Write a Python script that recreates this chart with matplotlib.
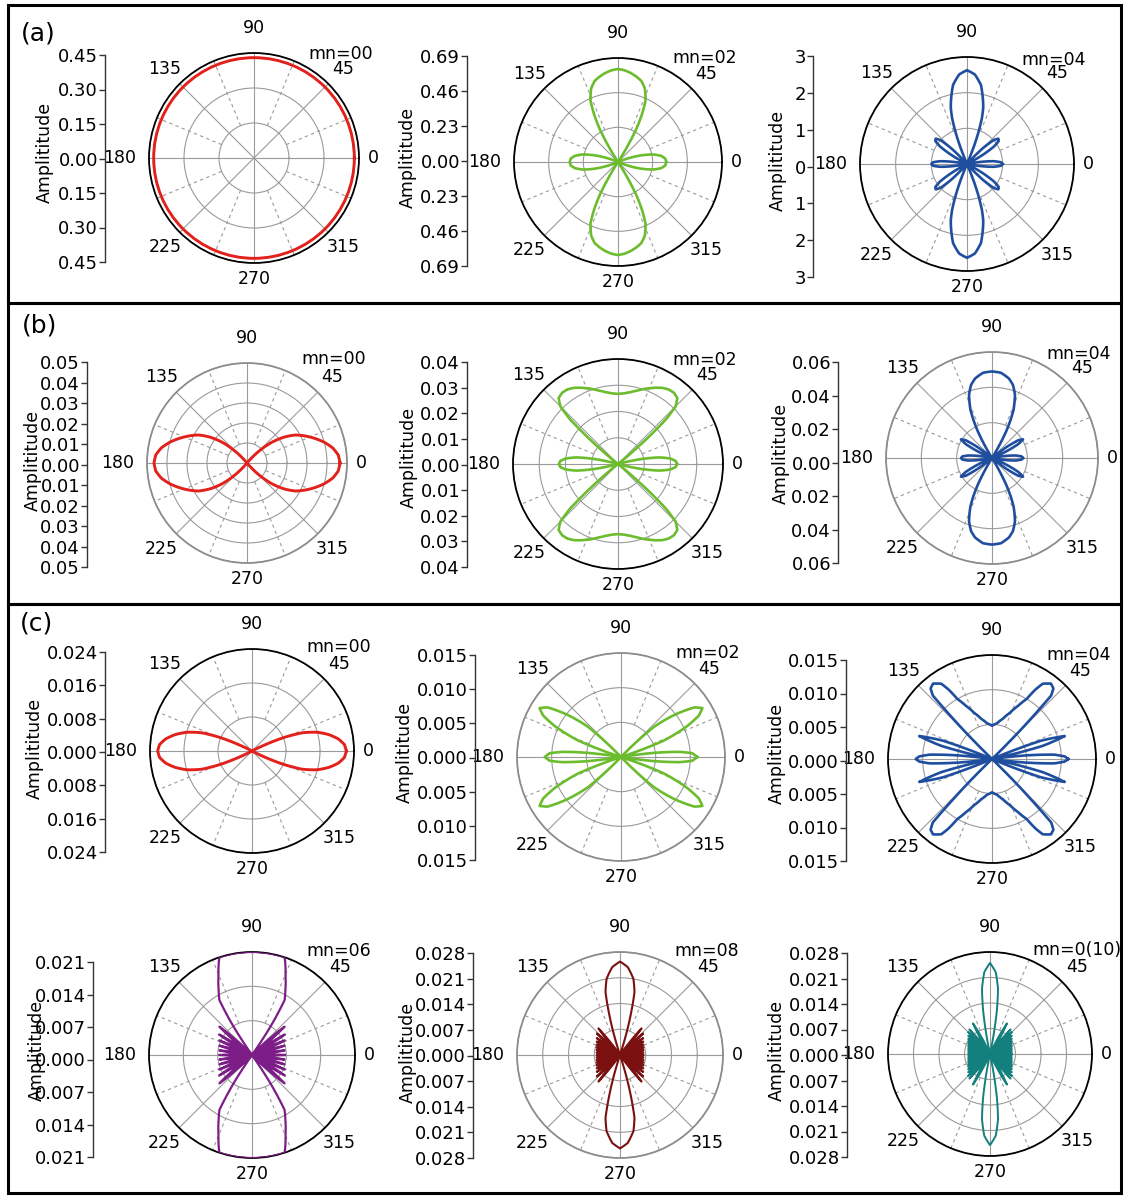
import numpy as np
import matplotlib.pyplot as plt
from matplotlib.patches import Rectangle

# ---- radiation patterns, one quadrant (0..90 deg) each ----
# every pattern is mirror symmetric about the 0-180 and 90-270 axes
a00_th = [0, 90]
a00_r = [0.43, 0.43]

a02_th = [0, 4, 8, 12, 16, 20, 23, 57, 59, 61, 63.5, 66, 70, 74, 78, 82, 86, 90]
a02_r = [0.32, 0.315, 0.29, 0.24, 0.16, 0.07, 0, 0, 0.12, 0.25, 0.36, 0.45, 0.52, 0.56, 0.58, 0.597, 0.61, 0.617]

a04_th = [0, 3, 6, 9, 11, 27, 30, 33, 36, 39, 42, 45, 48, 67, 68.5, 70, 72, 74, 76, 80, 85, 90]
a04_r = [1.0, 0.95, 0.75, 0.35, 0, 0, 0.5, 0.9, 1.1, 1.13, 1.0, 0.6, 0, 0, 0.5, 0.9, 1.35, 1.65, 1.85, 2.25, 2.52, 2.63]

b00_th = [0, 5, 10, 15, 20, 25, 30, 35, 40, 45, 50, 90]
b00_r = [0.0465, 0.0458, 0.0435, 0.040, 0.036, 0.032, 0.028, 0.0225, 0.016, 0.008, 0, 0]

b02_th = [0, 3, 6, 9, 12, 15, 38, 40, 41.5, 43, 45, 48, 52, 56, 60, 65, 70, 75, 80, 85, 90]
b02_r = [0.0225, 0.022, 0.020, 0.016, 0.009, 0, 0, 0.007, 0.016, 0.025, 0.031, 0.0338, 0.0345, 0.0343,
         0.0335, 0.032, 0.0305, 0.029, 0.0278, 0.027, 0.0267]

b04_th = [0, 3, 6, 9, 11, 22, 25, 28, 31, 34, 37, 40, 58, 60, 62, 64, 66, 70, 74, 78, 84, 90]
b04_r = [0.0175, 0.0168, 0.0135, 0.007, 0, 0, 0.009, 0.017, 0.0205, 0.018, 0.010, 0, 0, 0.008, 0.017,
         0.024, 0.030, 0.038, 0.043, 0.046, 0.0485, 0.049]

c00_th = [0, 4, 8, 12, 16, 20, 23, 26, 28, 90]
c00_r = [0.0222, 0.0218, 0.0205, 0.0185, 0.016, 0.0125, 0.008, 0.0025, 0, 0]

c02_th = [0, 3, 5, 7, 9, 18, 21, 25, 28, 31, 34, 38, 42.5, 46, 90]
c02_r = [0.011, 0.0103, 0.0085, 0.005, 0, 0, 0.0066, 0.0105, 0.0127, 0.0137, 0.0128, 0.010, 0.0064, 0, 0]

c04_th = [0, 2, 4, 6, 8, 12, 14.5, 17.5, 20.5, 23, 44, 45, 46, 47, 49, 52, 56, 58, 60, 64, 69, 75, 82, 90]
c04_r = [0.011, 0.0105, 0.009, 0.005, 0, 0, 0.0075, 0.011, 0.0075, 0, 0, 0.004, 0.008, 0.0125, 0.0135,
         0.0138, 0.0131, 0.0118, 0.010, 0.0085, 0.0071, 0.006, 0.0052, 0.0048]

# the mn=06 main lobe runs along the outer circle (0.021) at the top
c06_th = [0, 4, 8, 12, 16, 20, 24, 28, 32, 36, 41, 46, 55, 57, 59.3, 63, 67, 71.5, 90]
c06_r = [0.0067, 0, 0.0067, 0, 0.0069, 0, 0.0073, 0, 0.0079, 0, 0.0088, 0, 0, 0.007, 0.013, 0.0150,
         0.0175, 0.021, 0.021]

c08_th = [0, 3, 6, 9, 12, 15, 18, 21, 24, 27, 30, 33, 36, 39.5, 43, 47, 51, 55, 72, 73.5, 75, 77, 80, 85, 90]
c08_r = [0.0063, 0, 0.0064, 0, 0.0065, 0, 0.0067, 0, 0.0069, 0, 0.0073, 0, 0.0078, 0, 0.0086, 0, 0.0093, 0,
         0, 0.006, 0.011, 0.0175, 0.021, 0.024, 0.0254]

c10_th = [0, 2.5, 5, 7.5, 10, 12.5, 15, 17.5, 20, 22.5, 25, 27.5, 30, 32.5, 35, 37.5, 40, 42.5, 45,
          47.5, 50, 55, 61, 66, 78, 79.5, 81, 83, 86, 90]
c10_r = [0.006, 0, 0.006, 0, 0.0061, 0, 0.0062, 0, 0.0064, 0, 0.0066, 0, 0.0069, 0, 0.0073, 0, 0.0078, 0,
         0.0085, 0, 0.0088, 0, 0.0096, 0, 0, 0.006, 0.012, 0.018, 0.0225, 0.025]

# radial rings (= left axis ticks) and panel captions
rings = {
    "a00": [0.15, 0.30, 0.45], "a02": [0.23, 0.46, 0.69], "a04": [1, 2, 3],
    "b00": [0.01, 0.02, 0.03, 0.04, 0.05], "b02": [0.01, 0.02, 0.03, 0.04], "b04": [0.02, 0.04, 0.06],
    "c00": [0.008, 0.016, 0.024], "c02": [0.005, 0.010, 0.015], "c04": [0.005, 0.010, 0.015],
    "c06": [0.007, 0.014, 0.021], "c08": [0.007, 0.014, 0.021, 0.028], "c10": [0.007, 0.014, 0.021, 0.028],
}
mn_labels = ["mn=00", "mn=02", "mn=04", "mn=00", "mn=02", "mn=04",
             "mn=00", "mn=02", "mn=04", "mn=06", "mn=08", "mn=0(10)"]
angle_labels = ["0", "45", "90", "135", "180", "225", "270", "315"]

# ---- layout (pixels) ----
W, H = 1126, 1196
# key, theta, r, decimals, colour, lw, cx, cy, R, axis x, axis top, axis bottom, ylabel x, ylabel y, outer circle
panels = [
    ("a00", a00_th, a00_r, 2, "#e3211c", 2.1, 254, 158, 105, 105, 55, 262, 45, 152, "k"),
    ("a02", a02_th, a02_r, 2, "#6cbd2d", 1.9, 618, 162, 104, 467, 56, 266, 408, 157, "k"),
    ("a04", a04_th, a04_r, 0, "#1f4e9f", 1.9, 967, 164, 107, 813, 56, 277, 778, 160, "k"),
    ("b00", b00_th, b00_r, 2, "#e3211c", 2.1, 247, 463, 100, 87, 362, 567, 33, 460, "#8c8c8c"),
    ("b02", b02_th, b02_r, 2, "#6cbd2d", 1.9, 618, 464, 105, 467, 362, 567, 409, 457, "k"),
    ("b04", b04_th, b04_r, 2, "#1f4e9f", 1.9, 992, 458, 106, 838, 362, 563, 781, 453, "#8c8c8c"),
    ("c00", c00_th, c00_r, 3, "#e3211c", 2.1, 252, 751, 102, 105, 652, 852, 35, 748, "k"),
    ("c02", c02_th, c02_r, 3, "#6cbd2d", 1.9, 621, 757, 104, 475, 655, 860, 405, 752, "#8c8c8c"),
    ("c04", c04_th, c04_r, 3, "#1f4e9f", 1.9, 992, 759, 104, 846, 660, 861, 777, 753, "k"),
    ("c06", c06_th, c06_r, 3, "#7d1d87", 1.6, 252, 1055, 103, 93, 962, 1157, 37, 1050, "k"),
    ("c08", c08_th, c08_r, 3, "#7a1010", 1.5, 620, 1055, 103, 473, 953, 1158, 408, 1052, "#8c8c8c"),
    ("c10", c10_th, c10_r, 3, "#14807d", 1.4, 990, 1054, 102, 847, 953, 1157, 777, 1050, "k"),
]
lab_off = [14, 21, 25, 21, 13, 21, 16, 21]  # label distance beyond the outer circle


def full_turn(th, r):
    th = np.asarray(th, float)
    r = np.asarray(r, float)
    t = np.concatenate([th, 180 - th[::-1], 180 + th, 360 - th[::-1]])
    rr = np.concatenate([r, r[::-1], r, r[::-1]])
    return np.radians(t), rr


plt.rcParams["font.family"] = "DejaVu Sans"
fig = plt.figure(figsize=(W / 100, H / 100), dpi=100)
grid_col = "#9a9a9a"

for i, (key, th, r, dec, col, lw, cx, cy, R, axx, ay0, ay1, lx, ly, spc) in enumerate(panels):
    rr_ticks = rings[key]
    rmax = rr_ticks[-1]

    ax = fig.add_axes([(cx - R) / W, 1 - (cy + R) / H, 2 * R / W, 2 * R / H], projection="polar")
    ax.set_axisbelow(True)
    t, rv = full_turn(th, r)
    ln, = ax.plot(t, rv, color=col, lw=lw, solid_joinstyle="round", zorder=3)
    ln.get_path()._interpolation_steps = 24
    for a in np.arange(22.5, 360, 45):
        ax.plot([np.radians(a)] * 2, [rr_ticks[0], rmax], color=grid_col, lw=0.8,
                ls=(0, (3, 3)), zorder=1)
    ax.set_ylim(0, rmax)
    ax.set_yticks(rr_ticks)
    ax.set_yticklabels([])
    ax.set_xticks(np.radians(np.arange(0, 360, 45)))
    ax.set_xticklabels([])
    ax.tick_params(length=0)
    ax.grid(True, color=grid_col, lw=0.8, ls="-")
    ax.spines["polar"].set_color(spc)
    ax.spines["polar"].set_linewidth(1.3)

    for k, lab in enumerate(angle_labels):
        ang = 45 * k
        rl = rmax * (R + lab_off[k]) / R
        ha = "right" if ang == 180 else "center"
        ax.text(np.radians(ang), rl, lab, ha=ha, va="center", fontsize=12.5, clip_on=False)

    fig.text((cx + 87) / W, 1 - (cy - 104) / H, mn_labels[i], ha="center", va="center", fontsize=12.5)

    # left amplitude scale
    ay = fig.add_axes([axx / W, 1 - ay1 / H, 0.0005, (ay1 - ay0) / H])
    ay.patch.set_alpha(0)
    for s in ["top", "right", "bottom"]:
        ay.spines[s].set_visible(False)
    ay.spines["left"].set_color("#333333")
    ay.spines["left"].set_linewidth(1.0)
    ay.set_xticks([])
    ay.set_ylim(-rmax, rmax)
    yt = [-v for v in rr_ticks[::-1]] + [0] + list(rr_ticks)
    ay.set_yticks(yt)
    ay.set_yticklabels([f"{abs(v):.{dec}f}" for v in yt], fontsize=13)
    ay.tick_params(axis="y", length=4, width=1, pad=1, color="#333333")
    fig.text(lx / W, 1 - ly / H, "Amplititude", rotation=90, ha="center", va="center", fontsize=12.5)

# section frames and letters
for y0, y1 in [(5, 303), (303, 604), (604, 1193)]:
    fig.add_artist(Rectangle((8 / W, 1 - y1 / H), (1121 - 8) / W, (y1 - y0) / H,
                             transform=fig.transFigure, fill=False, ec="k", lw=2.2))
for lab, x, y in [("(a)", 38, 33), ("(b)", 40, 325), ("(c)", 36, 624)]:
    fig.text(x / W, 1 - y / H, lab, ha="center", va="center", fontsize=18)

plt.savefig("out.png", dpi=100)
